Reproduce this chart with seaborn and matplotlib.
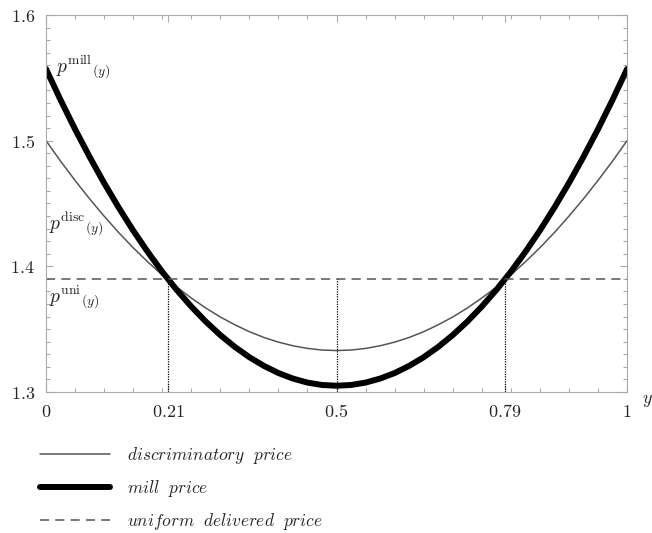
import numpy as np
import seaborn as sns
import matplotlib.pyplot as plt

sns.set_style("ticks")
plt.rcParams["mathtext.fontset"] = "cm"
plt.rcParams["font.family"] = ["DejaVu Serif"]

# location along the market, every 0.025
y_pos = [0.000, 0.025, 0.050, 0.075, 0.100, 0.125, 0.150, 0.175, 0.200, 0.225,
         0.250, 0.275, 0.300, 0.325, 0.350, 0.375, 0.400, 0.425, 0.450, 0.475,
         0.500, 0.525, 0.550, 0.575, 0.600, 0.625, 0.650, 0.675, 0.700, 0.725,
         0.750, 0.775, 0.800, 0.825, 0.850, 0.875, 0.900, 0.925, 0.950, 0.975,
         1.000]
mill_price = [1.5570, 1.5324, 1.5091, 1.4871, 1.4663, 1.4468, 1.4285, 1.4115,
              1.3957, 1.3812, 1.3680, 1.3560, 1.3453, 1.3359, 1.3277, 1.3208,
              1.3151, 1.3107, 1.3075, 1.3056, 1.3050, 1.3056, 1.3075, 1.3107,
              1.3151, 1.3208, 1.3277, 1.3359, 1.3453, 1.3560, 1.3680, 1.3812,
              1.3957, 1.4115, 1.4285, 1.4468, 1.4663, 1.4871, 1.5091, 1.5324,
              1.5570]
disc_price = [1.5000, 1.4837, 1.4683, 1.4537, 1.4399, 1.4269, 1.4148, 1.4036,
              1.3931, 1.3835, 1.3748, 1.3668, 1.3597, 1.3535, 1.3480, 1.3434,
              1.3397, 1.3368, 1.3347, 1.3334, 1.3330, 1.3334, 1.3347, 1.3368,
              1.3397, 1.3434, 1.3480, 1.3535, 1.3597, 1.3668, 1.3748, 1.3835,
              1.3931, 1.4036, 1.4148, 1.4269, 1.4399, 1.4537, 1.4683, 1.4837,
              1.5000]
uniform_price = 1.39
cross_points = [0.21, 0.5, 0.79]
x_ticks = [0, 0.21, 0.5, 0.79, 1]
x_ticklabels = ["0", "0.21", "0.5", "0.79", "1"]
y_ticks = [1.3, 1.4, 1.5, 1.6]
y_ticklabels = ["1.3", "1.4", "1.5", "1.6"]

fig = plt.figure(figsize=(6.52, 5.33), dpi=100)
ax = fig.add_axes([0.0706, 0.2645, 0.8911, 0.7074])

sns.lineplot(x=y_pos, y=disc_price, ax=ax, color="#555555", linewidth=1.1,
             label=r"$discriminatory\ \ price$")
sns.lineplot(x=y_pos, y=mill_price, ax=ax, color="black", linewidth=4.3,
             label=r"$mill\ \ price$")
ax.axhline(uniform_price, color="#555555", linewidth=1.1, dashes=(6, 4),
           label=r"$uniform\ \ delivered\ \ price$")
ax.vlines(cross_points, 1.3, uniform_price, color="black", linewidth=0.9,
          linestyles=(0, (1, 1)))

ax.set_xlim(0, 1)
ax.set_ylim(1.3, 1.6)
ax.set_xticks(x_ticks)
ax.set_xticklabels(["$" + t + "$" for t in x_ticklabels], fontsize=13)
ax.set_yticks(y_ticks)
ax.set_yticklabels(["$" + t + "$" for t in y_ticklabels], fontsize=13)
ax.set_xticks(np.arange(0, 1.0001, 0.05), minor=True)
ax.set_yticks(np.arange(1.3, 1.6001, 0.01), minor=True)
ax.tick_params(which="both", direction="in", top=True, right=True,
               color="#aaaaaa", width=0.8)
ax.tick_params(which="major", length=5)
ax.tick_params(which="minor", length=3)
ax.tick_params(axis="x", pad=8)
ax.tick_params(axis="y", pad=8)
for sp in ax.spines.values():
    sp.set_color("#aaaaaa")
    sp.set_linewidth(0.8)

ax.text(0.018, 1.558, r"$p^{\mathrm{mill}}{}_{(y)}$", fontsize=14,
        va="center", ha="left")
ax.text(0.005, 1.433, r"$p^{\mathrm{disc}}{}_{(y)}$", fontsize=14,
        va="center", ha="left")
ax.text(0.005, 1.375, r"$p^{\mathrm{uni}}{}_{(y)}$", fontsize=14,
        va="center", ha="left")
ax.text(1.026, 1.294, r"$y$", fontsize=13, va="center", ha="left")

handles, labels = ax.get_legend_handles_labels()
ax.legend_.remove()
fig.legend(handles, labels, loc="upper left", bbox_to_anchor=(0.038, 0.195),
           frameon=False, fontsize=12.5, handlelength=4.0, handletextpad=0.98,
           labelspacing=0.7)

fig.savefig("out.png", dpi=100)
